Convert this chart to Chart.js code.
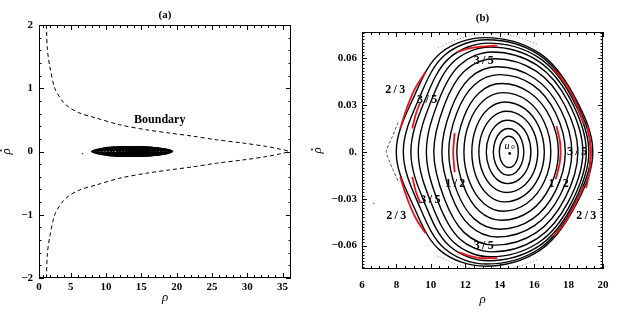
<!DOCTYPE html>
<html>
<head>
<meta charset="utf-8">
<script src="https://cdn.jsdelivr.net/npm/chart.js@4.4.1/dist/chart.umd.min.js"></script>
<style>
  html, body { margin: 0; padding: 0; background: #fff; }
  #wrap { position: relative; width: 623px; height: 317px; }
  #wrap canvas { position: absolute; top: 0; }
</style>
</head>
<body>
<div id="wrap">
  <canvas id="chartA" width="310" height="317" style="left:0"></canvas>
  <canvas id="chartB" width="313" height="317" style="left:310px"></canvas>
</div>
<script>
// ---------- data ----------
// (a) boundary, upper and lower branch
const boundaryRhoUp     = [1.55, 1.69, 2.02, 2.73, 3.68, 4.61, 6.27, 8.64, 11.95, 15.73, 19.04, 22.34, 25.66, 29.44, 32.76, 34.64, 36.16];
const boundaryRhoDotUp  = [2.0, 1.61, 1.35, 1.0, 0.817, 0.711, 0.607, 0.528, 0.422, 0.343, 0.291, 0.242, 0.185, 0.133, 0.079, 0.038, 0];
const boundaryRhoLow    = [1.55, 1.69, 2.02, 2.73, 3.68, 4.61, 6.27, 8.64, 11.95, 15.73, 19.04, 22.34, 25.66, 29.44, 32.76, 34.64, 36.16];
const boundaryRhoDotLow = [-2.0, -1.61, -1.35, -1.0, -0.817, -0.711, -0.607, -0.528, -0.422, -0.343, -0.291, -0.242, -0.185, -0.133, -0.079, -0.038, 0];

// closed orbits around u0, inner -> outer
const orbitRho = [
  [13.98, 14.05, 14.26, 14.53, 14.81, 15.01, 15.08, 15.01, 14.81, 14.53, 14.26, 14.05],
  [13.63, 13.75, 14.07, 14.50, 14.95, 15.28, 15.40, 15.28, 14.95, 14.50, 14.07, 13.75],
  [13.22, 13.39, 13.84, 14.45, 15.13, 15.63, 15.81, 15.63, 15.13, 14.45, 13.84, 13.39],
  [12.79, 13.01, 13.60, 14.40, 15.31, 15.97, 16.21, 15.97, 15.31, 14.40, 13.60, 13.01],
  [12.38, 12.64, 13.34, 14.30, 15.45, 16.28, 16.59, 16.28, 15.45, 14.30, 13.34, 12.64],
  [11.92, 12.24, 13.06, 14.20, 15.59, 16.59, 16.97, 16.59, 15.59, 14.20, 13.06, 12.24],
  [11.51, 11.90, 12.81, 14.10, 15.76, 16.94, 17.41, 16.94, 15.76, 14.10, 12.81, 11.90],
  [11.04, 11.50, 12.52, 14.00, 15.91, 17.25, 17.81, 17.25, 15.91, 14.00, 12.52, 11.50],
  [10.64, 11.17, 12.25, 13.85, 16.02, 17.53, 18.19, 17.53, 16.02, 13.85, 12.25, 11.17],
  [10.17, 10.78, 11.94, 13.70, 16.12, 17.78, 18.54, 17.78, 16.12, 13.70, 11.94, 10.78],
  [ 9.74, 10.42, 11.65, 13.55, 16.19, 17.98, 18.83, 17.98, 16.19, 13.55, 11.65, 10.42],
  [ 9.27, 10.05, 11.36, 13.45, 16.24, 18.11, 19.03, 18.11, 16.24, 13.45, 11.36, 10.05],
  [ 8.84,  9.72, 11.10, 13.35, 16.27, 18.19, 19.18, 18.19, 16.27, 13.35, 11.10,  9.72],
  [ 8.40,  9.38, 10.83, 13.25, 16.28, 18.24, 19.30, 18.24, 16.28, 13.25, 10.83,  9.38],
  [ 7.99,  9.07, 10.57, 13.15, 16.28, 18.29, 19.41, 18.29, 16.28, 13.15, 10.57,  9.07]
];
const orbitRhoDot = [
  [0, 0.0050, 0.0087, 0.0100, 0.0087, 0.0050, 0, -0.0050, -0.0087, -0.0100, -0.0087, -0.0050],
  [0, 0.0075, 0.0130, 0.0150, 0.0130, 0.0075, 0, -0.0075, -0.0130, -0.0150, -0.0130, -0.0075],
  [0, 0.0102, 0.0176, 0.0203, 0.0176, 0.0102, 0, -0.0102, -0.0176, -0.0203, -0.0176, -0.0102],
  [0, 0.0130, 0.0225, 0.0260, 0.0225, 0.0130, 0, -0.0130, -0.0225, -0.0260, -0.0225, -0.0130],
  [0, 0.0160, 0.0277, 0.0320, 0.0277, 0.0160, 0, -0.0160, -0.0277, -0.0320, -0.0277, -0.0160],
  [0, 0.0190, 0.0329, 0.0380, 0.0329, 0.0190, 0, -0.0190, -0.0329, -0.0380, -0.0329, -0.0190],
  [0, 0.0219, 0.0379, 0.0438, 0.0379, 0.0219, 0, -0.0219, -0.0379, -0.0438, -0.0379, -0.0219],
  [0, 0.0248, 0.0429, 0.0495, 0.0429, 0.0248, 0, -0.0248, -0.0429, -0.0495, -0.0429, -0.0248],
  [0, 0.0273, 0.0472, 0.0545, 0.0472, 0.0273, 0, -0.0273, -0.0472, -0.0545, -0.0472, -0.0273],
  [0, 0.0299, 0.0517, 0.0597, 0.0517, 0.0299, 0, -0.0299, -0.0517, -0.0597, -0.0517, -0.0299],
  [0, 0.0320, 0.0554, 0.0640, 0.0554, 0.0320, 0, -0.0320, -0.0554, -0.0640, -0.0554, -0.0320],
  [0, 0.0336, 0.0582, 0.0672, 0.0582, 0.0336, 0, -0.0336, -0.0582, -0.0672, -0.0582, -0.0336],
  [0, 0.0349, 0.0604, 0.0697, 0.0604, 0.0349, 0, -0.0349, -0.0604, -0.0697, -0.0604, -0.0349],
  [0, 0.0359, 0.0622, 0.0718, 0.0622, 0.0359, 0, -0.0359, -0.0622, -0.0718, -0.0622, -0.0359],
  [0, 0.0366, 0.0634, 0.0732, 0.0634, 0.0366, 0, -0.0366, -0.0634, -0.0732, -0.0634, -0.0366]
];

// resonance island chains (red arcs)
const islandRho = [
  [8.22, 8.60, 9.10, 9.68],
  [8.22, 8.60, 9.10, 9.68],
  [8.92, 9.12, 9.39],
  [8.92, 9.12, 9.39],
  [11.52, 12.10, 12.68, 13.30, 13.84],
  [11.61, 12.30, 12.87, 13.84],
  [11.38, 11.30, 11.38],
  [17.30, 17.52, 17.50, 17.25],
  [17.13, 17.75, 18.35, 18.90],
  [19.10, 19.27, 19.22, 19.02],
  [18.88, 18.35, 17.75, 17.13]
];
const islandRhoDot = [
  [0.015, 0.028, 0.041, 0.051],
  [-0.016, -0.029, -0.042, -0.052],
  [0.015, 0.024, 0.032],
  [-0.016, -0.025, -0.033],
  [0.0638, 0.0660, 0.0671, 0.0678, 0.0681],
  [-0.0642, -0.0668, -0.0680, -0.0680],
  [0.012, 0, -0.013],
  [0.0165, 0.005, -0.006, -0.0175],
  [0.053, 0.045, 0.033, 0.018],
  [0.017, 0.003, -0.012, -0.023],
  [-0.022, -0.034, -0.046, -0.054]
];

// chaotic layer outside the last orbit
const chaosRho       = [8.10, 7.75, 7.41, 7.75, 8.15];
const chaosRhoDot    = [0.019, 0.0095, 0, -0.010, -0.020];
const haloRhoTop     = [10.4, 11.6, 13.0, 14.6, 16.2];
const haloRhoDotTop  = [0.0668, 0.0722, 0.0755, 0.0748, 0.069];
const haloRhoBot     = [10.4, 11.6, 13.0, 14.6, 16.2];
const haloRhoDotBot  = [-0.0668, -0.0722, -0.0755, -0.0748, -0.069];
const strayRho       = [6.67];
const strayRhoDot    = [-0.033];
const fixedRho       = [14.58];
const fixedRhoDot    = [-0.001];

// labels
const resLabels = ['3/5', '2/3', '3/5', '1/2', '1/2', '3/5', '2/3', '3/5', '3/5', '2/3'];
const resRho    = [13.07, 7.93, 9.78, 11.42, 17.42, 18.49, 7.99, 9.97, 13.07, 19.03];
const resRhoDot = [0.058, 0.0394, 0.0334, -0.0206, -0.0206, 0, -0.041, -0.0308, -0.0602, -0.041];

// tick labels
const aTicksX = [0.5, 5, 10, 15, 20, 25, 30, 35];
const bTicksY = [-0.06, -0.03, 0, 0.03, 0.06];

Chart.defaults.font.family = '"Liberation Serif", "Times New Roman", serif';
Chart.defaults.font.size   = 11;
Chart.defaults.font.weight = 'bold';
Chart.defaults.color       = '#000';

const pts = (xs, ys) => xs.map((x, i) => ({ x, y: ys[i] }));
const minus = s => String(s).replace('-', '\u2212');

// 讓軌道閉合 (line element as a loop, like radar)
const closeLoops = {
  id: 'closeLoops',
  afterDatasetsUpdate(chart) {
    chart.data.datasets.forEach((ds, i) => {
      if (!ds.closed) return;
      const line = chart.getDatasetMeta(i).dataset;
      if (!line) return;
      line._loop = true;
      line._fullLoop = true;
      line._pointsUpdated = false;
      delete line._segments;
      delete line._path;
    });
  }
};

// frame, inward ticks, titles, labels
function frameDecor(cfg) {
  return {
    id: 'frameDecor',
    afterDraw(chart) {
      const ctx = chart.ctx, a = chart.chartArea;
      const sx = chart.scales.x, sy = chart.scales.y;
      ctx.save();
      ctx.strokeStyle = '#000';
      ctx.lineWidth = 1;
      ctx.strokeRect(a.left + 0.5, a.top + 0.5, a.right - a.left - 1, a.bottom - a.top - 1);

      ctx.beginPath();
      const tickX = (v, len) => {
        const p = Math.round(sx.getPixelForValue(v)) + 0.5;
        ctx.moveTo(p, a.top); ctx.lineTo(p, a.top + len);
        ctx.moveTo(p, a.bottom); ctx.lineTo(p, a.bottom - len);
      };
      const tickY = (v, len) => {
        const p = Math.round(sy.getPixelForValue(v)) + 0.5;
        ctx.moveTo(a.left, p); ctx.lineTo(a.left + len, p);
        ctx.moveTo(a.right, p); ctx.lineTo(a.right - len, p);
      };
      cfg.xMajor.forEach(v => tickX(v, 5));
      cfg.xMinor.forEach(v => tickX(v, 3));
      cfg.yMajor.forEach(v => tickY(v, 5));
      cfg.yMinor.forEach(v => tickY(v, 2.5));
      ctx.stroke();

      const cx = (a.left + a.right) / 2;
      ctx.fillStyle = '#000';
      ctx.textAlign = 'center';
      ctx.textBaseline = 'middle';
      ctx.font = 'bold 11px "Liberation Serif"';
      ctx.fillText(cfg.title, cx, cfg.titleY);

      ctx.font = 'italic 13px "Liberation Serif"';
      ctx.fillText('\u03c1', cx, cfg.xTitleY);
      // rho with a dot, rotated
      ctx.save();
      ctx.translate(cfg.yTitleX, (a.top + a.bottom) / 2);
      ctx.rotate(-Math.PI / 2);
      ctx.fillText('\u03c1', 0, 0);
      ctx.beginPath();
      ctx.arc(1, -6, 0.9, 0, Math.PI * 2);
      ctx.fill();
      ctx.restore();

      (cfg.texts || []).forEach(t => {
        ctx.font = t.font;
        ctx.fillText(t.text, sx.getPixelForValue(t.x), sy.getPixelForValue(t.y));
      });
      if (cfg.u0) {
        const ux = sx.getPixelForValue(cfg.u0[0]), uy = sy.getPixelForValue(cfg.u0[1]);
        ctx.font = 'italic 10px "Liberation Serif"';
        ctx.fillText('u', ux, uy);
        ctx.font = '7px "Liberation Serif"';
        ctx.fillText('0', ux + 6, uy + 1);
      }
      ctx.restore();
    }
  };
}

function range(from, to, step, skip) {
  const out = [];
  const n = Math.round((to - from) / step);
  for (let i = 0; i <= n; i++) {
    const v = from + i * step;
    if (!skip || !skip(v)) out.push(v);
  }
  return out;
}

function orbitSets(width) {
  return orbitRho.map((xs, i) => ({
    data: pts(xs, orbitRhoDot[i]),
    borderColor: '#000',
    borderWidth: width,
    tension: 0.35,
    pointRadius: 0,
    closed: true
  }));
}

// ---------- (a) ----------
new Chart(document.getElementById('chartA'), {
  type: 'line',
  data: {
    datasets: [
      { data: pts(boundaryRhoUp, boundaryRhoDotUp), borderColor: '#000', borderWidth: 1, borderDash: [4, 3], tension: 0.3, pointRadius: 0 },
      { data: pts(boundaryRhoLow, boundaryRhoDotLow), borderColor: '#000', borderWidth: 1, borderDash: [4, 3], tension: 0.3, pointRadius: 0 },
      { data: pts(strayRho, strayRhoDot), showLine: false, pointRadius: 0.8, backgroundColor: '#555', borderWidth: 0 },
      ...orbitSets(1.8)
    ]
  },
  options: {
    responsive: false,
    animation: false,
    events: [],
    layout: { padding: { left: 0, right: 19, top: 25, bottom: 0 } },
    plugins: { legend: { display: false }, tooltip: { enabled: false } },
    scales: {
      x: {
        type: 'linear', min: 0.5, max: 36.2,
        grid: { display: false, drawTicks: false }, border: { display: false },
        afterBuildTicks: s => { s.ticks = aTicksX.map(v => ({ value: v })); },
        afterFit: s => { s.height = 39; },
        ticks: { padding: 3, maxRotation: 0, autoSkip: false, callback: v => v < 1 ? '0' : String(v) }
      },
      y: {
        min: -2, max: 2,
        grid: { display: false, drawTicks: false }, border: { display: false },
        afterFit: s => { s.width = 39; },
        ticks: { stepSize: 1, padding: 6, callback: v => minus(v) }
      }
    }
  },
  plugins: [closeLoops, frameDecor({
    title: '(a)', titleY: 15, xTitleY: 298, yTitleX: 7,
    xMajor: aTicksX,
    xMinor: range(1, 36, 1, v => v % 5 === 0),
    yMajor: [-2, -1, 0, 1, 2],
    yMinor: range(-1.8, 1.8, 0.2),
    texts: [{ text: 'Boundary', x: 17.6, y: 0.505, font: 'bold 12px "Liberation Serif"' }]
  })]
});

// ---------- (b) ----------
new Chart(document.getElementById('chartB'), {
  type: 'line',
  data: {
    datasets: [
      ...islandRho.map((xs, i) => ({
        data: pts(xs, islandRhoDot[i]), borderColor: '#e8141b', borderWidth: 1.8, tension: 0.4, pointRadius: 0
      })),
      { data: pts(fixedRho, fixedRhoDot), showLine: false, pointRadius: 1.4, backgroundColor: '#000', borderWidth: 0 },
      { data: pts(strayRho, strayRhoDot), showLine: false, pointRadius: 0.8, backgroundColor: '#777', borderWidth: 0 },
      { data: pts(chaosRho, chaosRhoDot), borderColor: '#555', borderWidth: 1, borderDash: [3, 2], tension: 0.2, pointRadius: 0 },
      { data: pts(haloRhoTop, haloRhoDotTop), borderColor: '#888', borderWidth: 1, borderDash: [1, 2], tension: 0.4, pointRadius: 0 },
      { data: pts(haloRhoBot, haloRhoDotBot), borderColor: '#888', borderWidth: 1, borderDash: [1, 2], tension: 0.4, pointRadius: 0 },
      ...orbitSets(1.4)
    ]
  },
  options: {
    responsive: false,
    animation: false,
    events: [],
    layout: { padding: { left: 0, right: 20, top: 32, bottom: 0 } },
    plugins: { legend: { display: false }, tooltip: { enabled: false } },
    scales: {
      x: {
        type: 'linear', min: 6, max: 20,
        grid: { display: false, drawTicks: false }, border: { display: false },
        afterFit: s => { s.height = 48; },
        ticks: { stepSize: 2, padding: 10, maxRotation: 0, autoSkip: false }
      },
      y: {
        min: -0.075, max: 0.0768,
        grid: { display: false, drawTicks: false }, border: { display: false },
        afterBuildTicks: s => { s.ticks = bTicksY.map(v => ({ value: v })); },
        afterFit: s => { s.width = 52; },
        ticks: { padding: 5, callback: v => v === 0 ? '0.' : minus(v.toFixed(2)) }
      }
    }
  },
  plugins: [closeLoops, frameDecor({
    title: '(b)', titleY: 18, xTitleY: 300, yTitleX: 8,
    xMajor: range(6, 20, 2),
    xMinor: range(6.5, 19.5, 0.5, v => v % 2 === 0),
    yMajor: bTicksY,
    yMinor: range(-0.074, 0.076, 0.002),
    texts: resLabels.map((t, i) => ({
      text: t.replace('/', '\u2009/\u2009'), x: resRho[i], y: resRhoDot[i], font: 'bold 12px "Liberation Serif"'
    })),
    u0: [14.42, 0.0035]
  })]
});
</script>
</body>
</html>
